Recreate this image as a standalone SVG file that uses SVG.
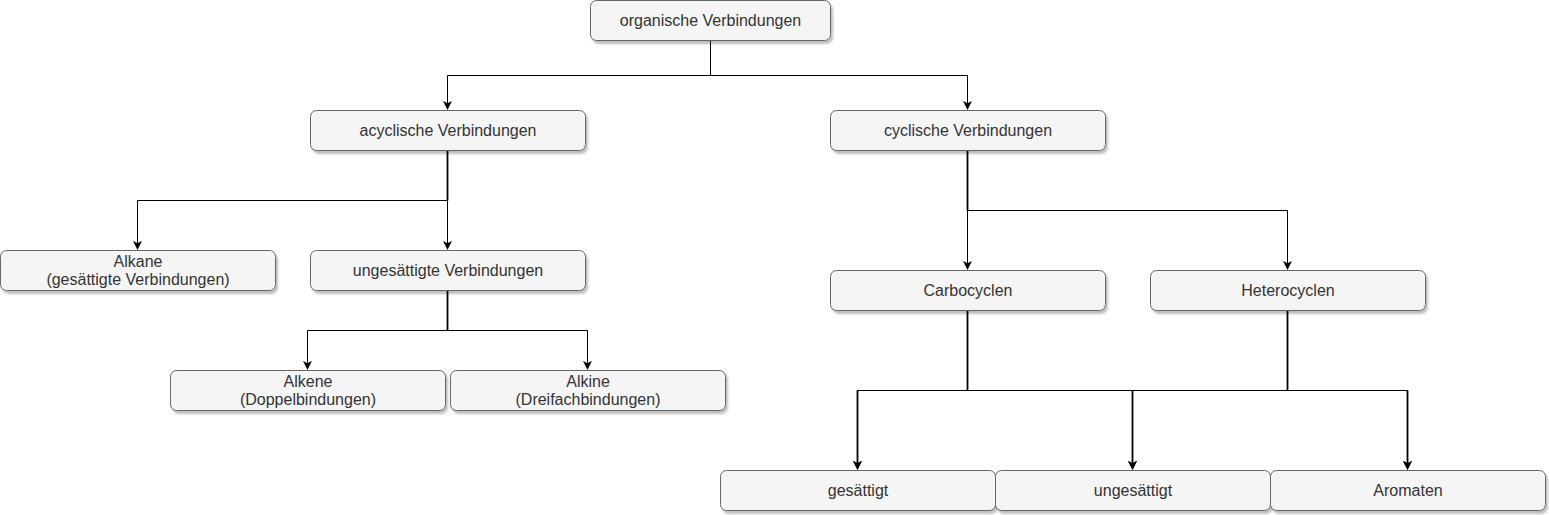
<svg xmlns="http://www.w3.org/2000/svg" width="1549" height="515" viewBox="0 0 1549 515">
<style>
.n rect{fill:#f5f5f5;stroke:#666666;stroke-width:1;filter:url(#sh)}
.n text{font-family:"Liberation Sans",Arial,sans-serif;font-size:16px;fill:#333333;text-anchor:middle}
.e path{fill:none;stroke:#000000;stroke-width:1}
.e path.t{stroke-width:1.8}
</style>
<defs>
<filter id="sh" x="-5%" y="-20%" width="110%" height="150%">
<feDropShadow dx="2" dy="3" stdDeviation="1" flood-color="#000" flood-opacity="0.25"/>
</filter>
<marker id="ar" viewBox="0 0 10 10" refX="9" refY="5" markerWidth="9" markerHeight="9" markerUnits="userSpaceOnUse" orient="auto">
<path d="M0,0 L10,5 L0,10 L2.5,5 Z" fill="#000"/>
</marker>
</defs>
<g class="e" id="connectors">
<path d="M710.5,40.5 V75.5 H447.5 V109" marker-end="url(#ar)"/>
<path d="M710.5,40.5 V75.5 H967.5 V109" marker-end="url(#ar)"/>
<path d="M447.5,150.5 V200.5 H137.5 V249" marker-end="url(#ar)"/>
<path d="M447.5,150.5 V249" marker-end="url(#ar)"/>
<path class="t" d="M447.5,150.5 V200.5"/>
<path d="M447.5,290.5 V330.5 H307.5 V369" marker-end="url(#ar)"/>
<path d="M447.5,290.5 V330.5 H587.5 V369" marker-end="url(#ar)"/>
<path class="t" d="M447.5,290.5 V330.5"/>
<path d="M967.5,150.5 V269" marker-end="url(#ar)"/>
<path d="M967.5,150.5 V210.5 H1287.5 V269" marker-end="url(#ar)"/>
<path class="t" d="M967.5,150.5 V210.5"/>
<path d="M967.5,310.5 V390.5 H857.5 V469" marker-end="url(#ar)"/>
<path d="M967.5,310.5 V390.5 H1132.5 V469" marker-end="url(#ar)"/>
<path d="M967.5,310.5 V390.5 H1407.5 V469" marker-end="url(#ar)"/>
<path d="M1287.5,310.5 V390.5 H857.5 V469" marker-end="url(#ar)"/>
<path d="M1287.5,310.5 V390.5 H1132.5 V469" marker-end="url(#ar)"/>
<path d="M1287.5,310.5 V390.5 H1407.5 V469" marker-end="url(#ar)"/>
<path class="t" d="M967.5,310.5 V390.5 M1287.5,310.5 V390.5 M857.5,390.5 V465 M1132.5,390.5 V465 M1407.5,390.5 V465"/>
</g>
<g class="n" id="organische"><rect x="590.5" y="0.5" width="240" height="40" rx="6"/><text x="710.5" y="26">organische Verbindungen</text></g>
<g class="n" id="acyclische"><rect x="310.5" y="110.5" width="275" height="40" rx="6"/><text x="448" y="136">acyclische Verbindungen</text></g>
<g class="n" id="cyclische"><rect x="830.5" y="110.5" width="275" height="40" rx="6"/><text x="968" y="136">cyclische Verbindungen</text></g>
<g class="n" id="alkane"><rect x="0.5" y="250.5" width="275" height="40" rx="6"/><text x="138" y="267">Alkane</text><text x="138" y="285">(gesättigte Verbindungen)</text></g>
<g class="n" id="ungesaettigteVerb"><rect x="310.5" y="250.5" width="275" height="40" rx="6"/><text x="448" y="276">ungesättigte Verbindungen</text></g>
<g class="n" id="carbocyclen"><rect x="830.5" y="270.5" width="275" height="40" rx="6"/><text x="968" y="296">Carbocyclen</text></g>
<g class="n" id="heterocyclen"><rect x="1150.5" y="270.5" width="275" height="40" rx="6"/><text x="1288" y="296">Heterocyclen</text></g>
<g class="n" id="alkene"><rect x="170.5" y="370.5" width="275" height="40" rx="6"/><text x="308" y="387">Alkene</text><text x="308" y="405">(Doppelbindungen)</text></g>
<g class="n" id="alkine"><rect x="450.5" y="370.5" width="275" height="40" rx="6"/><text x="588" y="387">Alkine</text><text x="588" y="405">(Dreifachbindungen)</text></g>
<g class="n" id="gesaettigt"><rect x="720.5" y="470.5" width="275" height="40" rx="6"/><text x="858" y="496">gesättigt</text></g>
<g class="n" id="ungesaettigt"><rect x="995.5" y="470.5" width="275" height="40" rx="6"/><text x="1133" y="496">ungesättigt</text></g>
<g class="n" id="aromaten"><rect x="1270.5" y="470.5" width="275" height="40" rx="6"/><text x="1408" y="496">Aromaten</text></g>
</svg>
